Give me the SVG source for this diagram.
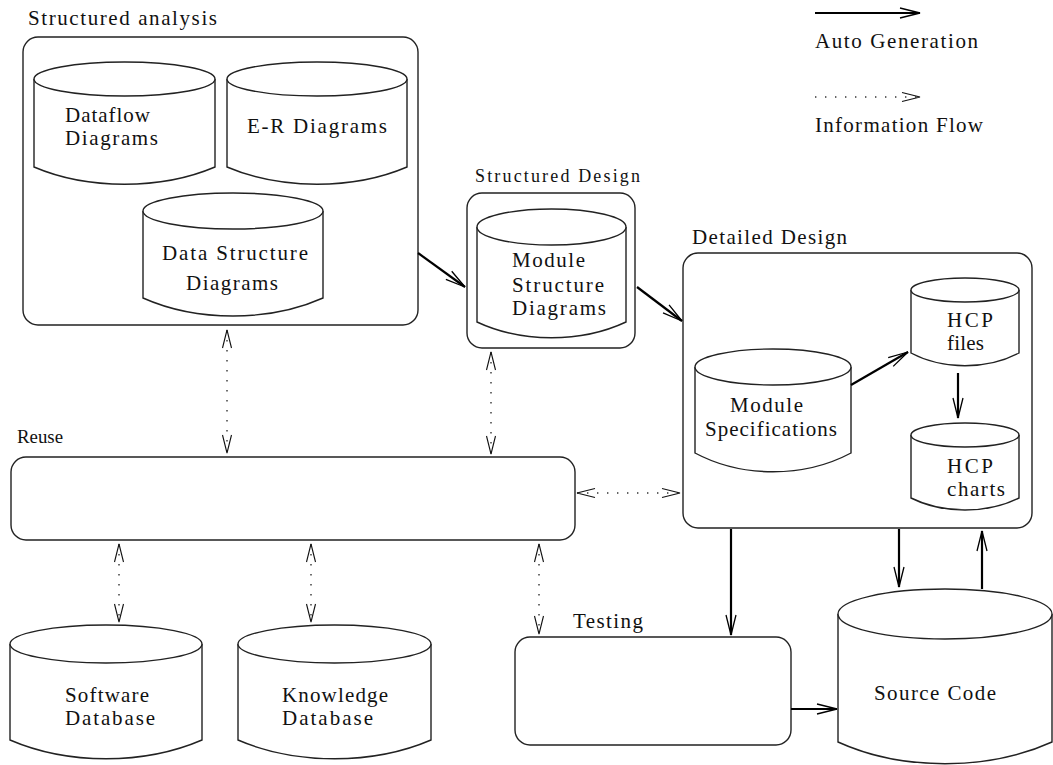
<svg xmlns="http://www.w3.org/2000/svg" width="1053" height="765" viewBox="0 0 1053 765">
<style>
.box{fill:#fff;stroke:#222;stroke-width:1.4}
.cyl{fill:#fff;stroke:#222;stroke-width:1.4}
text{font-family:"Liberation Serif","DejaVu Serif",serif;font-size:21px;fill:#111}
.sm{font-size:18px}
.auto{stroke:#000;stroke-width:2.2;fill:none;marker-end:url(#ah)}
.info{stroke:#333;stroke-width:1.4;fill:none;stroke-dasharray:1.4 8.6;marker-start:url(#ih);marker-end:url(#ih)}
</style>
<defs>
<marker id="ah" markerUnits="userSpaceOnUse" markerWidth="24" markerHeight="14" viewBox="-22 -7 24 14" refX="0" refY="0" orient="auto-start-reverse" overflow="visible">
<path d="M-20,-5 L0,0 L-20,5" fill="none" stroke="#000" stroke-width="1.3"/>
</marker>
<marker id="ih" markerUnits="userSpaceOnUse" markerWidth="24" markerHeight="14" viewBox="-22 -7 24 14" refX="0" refY="0" orient="auto-start-reverse" overflow="visible">
<path d="M-18,-4.5 L0,0 L-18,4.5" fill="none" stroke="#111" stroke-width="1.1"/>
</marker>
</defs>

<g id="legend">
<line class="auto" x1="815" y1="13" x2="920" y2="13"/>
<text x="815" y="48" textLength="163" lengthAdjust="spacing">Auto Generation</text>
<line class="info" x1="815" y1="97" x2="920" y2="97" style="marker-start:none"/>
<text x="815" y="132" textLength="168" lengthAdjust="spacing">Information Flow</text>
</g>

<g id="structured-analysis">
<text x="28" y="25" textLength="189" lengthAdjust="spacing">Structured analysis</text>
<rect class="box" x="23" y="37" width="395" height="288" rx="15"/>
<g id="dataflow">
<path class="cyl" d="M34,79 L34,167 C88,190 161,190 215,167 L215,79"/>
<ellipse class="cyl" cx="124.5" cy="79" rx="90.5" ry="17"/>
<text x="65" y="122" textLength="85" lengthAdjust="spacing">Dataflow</text>
<text x="65" y="145" textLength="93" lengthAdjust="spacing">Diagrams</text>
</g>
<g id="er">
<path class="cyl" d="M227,79 L227,167 C281,190 353,190 407,167 L407,79"/>
<ellipse class="cyl" cx="317" cy="79" rx="90" ry="17"/>
<text x="247" y="133" textLength="140" lengthAdjust="spacing">E-R Diagrams</text>
</g>
<g id="data-structure">
<path class="cyl" d="M143,211 L143,298 C197,322 269,322 323,298 L323,211"/>
<ellipse class="cyl" cx="233" cy="211" rx="90" ry="18"/>
<text x="162" y="260" textLength="146" lengthAdjust="spacing">Data Structure</text>
<text x="186" y="290" textLength="92" lengthAdjust="spacing">Diagrams</text>
</g>
</g>

<g id="structured-design">
<text class="sm" x="475" y="182" textLength="165" lengthAdjust="spacing">Structured Design</text>
<rect class="box" x="467" y="193" width="168" height="155" rx="15"/>
<g id="module-structure">
<path class="cyl" d="M477,227 L477,322 C522,343 581,343 626,322 L626,227"/>
<ellipse class="cyl" cx="551.5" cy="227" rx="74.5" ry="18"/>
<text x="512" y="267" textLength="73" lengthAdjust="spacing">Module</text>
<text x="512" y="292" textLength="92" lengthAdjust="spacing">Structure</text>
<text x="512" y="315" textLength="94" lengthAdjust="spacing">Diagrams</text>
</g>
</g>

<g id="detailed-design">
<text x="692" y="244" textLength="155" lengthAdjust="spacing">Detailed Design</text>
<rect class="box" x="683" y="253" width="349" height="275" rx="15"/>
<g id="module-spec">
<path class="cyl" d="M695,367 L695,453 C742,478 804,478 851,453 L851,367"/>
<ellipse class="cyl" cx="773" cy="367" rx="78" ry="18"/>
<text x="730" y="412" textLength="73" lengthAdjust="spacing">Module</text>
<text x="705" y="436" textLength="132" lengthAdjust="spacing">Specifications</text>
</g>
<g id="hcp-files">
<path class="cyl" d="M911,290 L911,353 C943,370 987,370 1019,353 L1019,290"/>
<ellipse class="cyl" cx="965" cy="290" rx="54" ry="12"/>
<text x="947" y="327" textLength="46" lengthAdjust="spacing">HCP</text>
<text x="947" y="350" textLength="37" lengthAdjust="spacing">files</text>
</g>
<g id="hcp-charts">
<path class="cyl" d="M911,435 L911,498 C943,514 987,514 1019,498 L1019,435"/>
<ellipse class="cyl" cx="965" cy="435" rx="54" ry="12"/>
<text x="947" y="473" textLength="46" lengthAdjust="spacing">HCP</text>
<text x="947" y="496" textLength="58" lengthAdjust="spacing">charts</text>
</g>
</g>

<g id="reuse">
<text x="17" y="443" style="font-size:19px" textLength="46" lengthAdjust="spacingAndGlyphs">Reuse</text>
<rect class="box" x="11" y="457" width="564" height="83" rx="15"/>
</g>

<g id="software-db">
<path class="cyl" d="M10,644 L10,740 C68,765 144,765 202,740 L202,644"/>
<ellipse class="cyl" cx="106" cy="644" rx="96" ry="19"/>
<text x="65" y="702" textLength="84" lengthAdjust="spacing">Software</text>
<text x="65" y="725" textLength="90" lengthAdjust="spacing">Database</text>
</g>

<g id="knowledge-db">
<path class="cyl" d="M238,644 L238,740 C296,765 373,765 431,740 L431,644"/>
<ellipse class="cyl" cx="334.5" cy="644" rx="96.5" ry="19"/>
<text x="282" y="702" textLength="106" lengthAdjust="spacing">Knowledge</text>
<text x="282" y="725" textLength="91" lengthAdjust="spacing">Database</text>
</g>

<g id="testing">
<text x="573" y="628" textLength="70" lengthAdjust="spacing">Testing</text>
<rect class="box" x="515" y="637" width="276" height="108" rx="15"/>
</g>

<g id="source-code">
<path class="cyl" d="M838,614 L838,742 C902,771 988,771 1052,742 L1052,614"/>
<ellipse class="cyl" cx="945" cy="614" rx="107" ry="25"/>
<text x="874" y="700" textLength="122" lengthAdjust="spacing">Source Code</text>
</g>

<g id="connectors">
<line class="auto" x1="418" y1="253" x2="465" y2="287"/>
<line class="auto" x1="637" y1="287" x2="682" y2="321"/>
<line class="auto" x1="851" y1="385" x2="908" y2="352"/>
<line class="auto" x1="958" y1="373" x2="958" y2="418"/>
<line class="auto" x1="731" y1="529" x2="731" y2="635"/>
<line class="auto" x1="899" y1="529" x2="899" y2="587"/>
<line class="auto" x1="982" y1="589" x2="982" y2="531"/>
<line class="auto" x1="791" y1="709" x2="837" y2="709"/>
<line class="info" x1="227" y1="330" x2="227" y2="453"/>
<line class="info" x1="491" y1="352" x2="491" y2="454"/>
<line class="info" x1="577" y1="493" x2="680" y2="493"/>
<line class="info" x1="119" y1="544" x2="119" y2="622"/>
<line class="info" x1="311" y1="544" x2="311" y2="622"/>
<line class="info" x1="539" y1="544" x2="539" y2="634"/>
</g>
</svg>
